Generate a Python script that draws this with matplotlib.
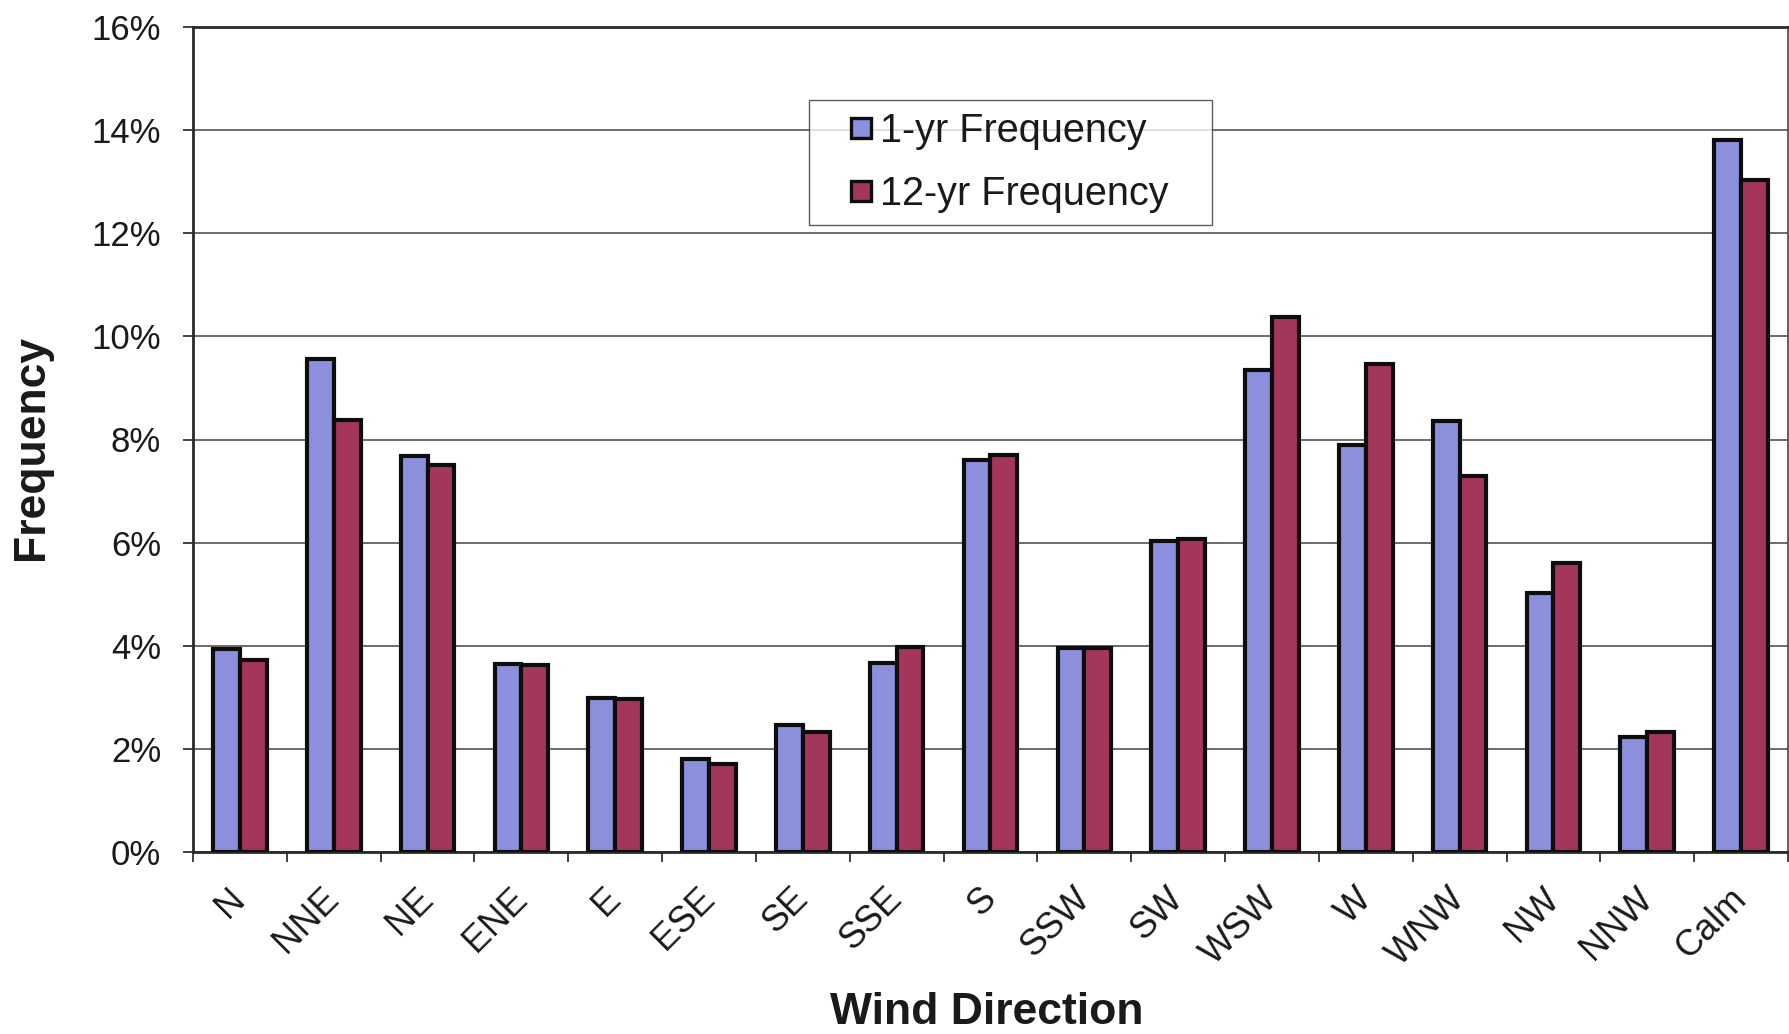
import numpy as np
import matplotlib
matplotlib.use("Agg")
import matplotlib.pyplot as plt
from matplotlib.lines import Line2D

# ---- data ----
directions = ["N", "NNE", "NE", "ENE", "E", "ESE", "SE", "SSE", "S", "SSW",
              "SW", "WSW", "W", "WNW", "NW", "NNW", "Calm"]
freq_1yr = [3.94, 9.56, 7.68, 3.65, 2.99, 1.81, 2.46, 3.67, 7.61, 3.96,
            6.04, 9.34, 7.90, 8.36, 5.02, 2.23, 13.80]
freq_12yr = [3.72, 8.38, 7.50, 3.63, 2.96, 1.70, 2.32, 3.98, 7.70, 3.96,
             6.08, 10.38, 9.47, 7.30, 5.60, 2.32, 13.03]
series_names = ["1-yr Frequency", "12-yr Frequency"]
y_ticks = [0, 2, 4, 6, 8, 10, 12, 14, 16]
y_tick_labels = ["0%", "2%", "4%", "6%", "8%", "10%", "12%", "14%", "16%"]

plt.rcParams['font.family'] = ['Liberation Sans', 'DejaVu Sans']

W, H = 1790, 1034
fig = plt.figure(figsize=(W / 100, H / 100), dpi=100)
ax = fig.add_axes([193 / W, 1 - 852 / H, (1788 - 193) / W, (852 - 27) / H])

blue = "#8C90DC"
red = "#A4365B"
x = np.arange(len(directions))
bw = 1 / 3.5
ax.bar(x - bw / 2, freq_1yr, bw, color=blue, edgecolor="#0d0d0d", linewidth=3.0, zorder=3)
ax.bar(x + bw / 2, freq_12yr, bw, color=red, edgecolor="#0d0d0d", linewidth=3.0, zorder=3)

ax.set_xlim(-0.5, len(directions) - 0.5)
ax.set_ylim(0, 16)
ax.set_yticks(y_ticks)
ax.set_yticklabels(y_tick_labels, fontsize=25, color="#1a1a1a")
ax.yaxis.grid(True, color="#444444", linewidth=1.1, zorder=0)
ax.set_axisbelow(True)

ax.set_xticks(x)
ax.set_xticklabels(directions, fontsize=26, rotation=45, ha="right", va="center",
                   rotation_mode="anchor", color="#1a1a1a")
ax.set_xticks(np.arange(len(directions) + 1) - 0.5, minor=True)
ax.tick_params(axis="x", which="major", length=0, pad=30)
ax.tick_params(axis="x", which="minor", length=7, width=1.3, direction="out", color="#333333")
ax.tick_params(axis="y", length=7, width=1.3, direction="out", color="#333333", pad=16)

for s in ["left", "bottom", "top"]:
    ax.spines[s].set_color("#2a2a2a")
    ax.spines[s].set_linewidth(2.0)
ax.spines["right"].set_color("#444444")
ax.spines["right"].set_linewidth(1.2)

fig.text(32 / W, 1 - 447 / H, "Frequency", rotation=90, ha="center", va="center",
         fontsize=32, fontweight="bold", color="#1a1a1a")
fig.text(987 / W, 1 - 1013 / H, "Wind Direction", ha="center", va="center",
         fontsize=32, fontweight="bold", color="#1a1a1a")

handles = [Line2D([], [], linestyle="none", marker="s", markersize=14,
                  markerfacecolor=c, markeredgecolor="#0d0d0d", markeredgewidth=2.4)
           for c in (blue, red)]
leg = ax.legend(handles, series_names, loc="upper left",
                bbox_to_anchor=(809 / W, 1 - 223 / H, 403 / W, 123 / H),
                bbox_transform=fig.transFigure, mode="expand", borderaxespad=0,
                fontsize=28.5, frameon=True, fancybox=False, borderpad=0.31,
                labelspacing=0.62, handlelength=2.0, handletextpad=-0.52,
                numpoints=1)
for t in leg.get_texts():
    t.set_color("#1a1a1a")
leg.get_frame().set_edgecolor("#333333")
leg.get_frame().set_linewidth(1.0)
leg.set_zorder(5)

fig.savefig("out.png", dpi=100)
